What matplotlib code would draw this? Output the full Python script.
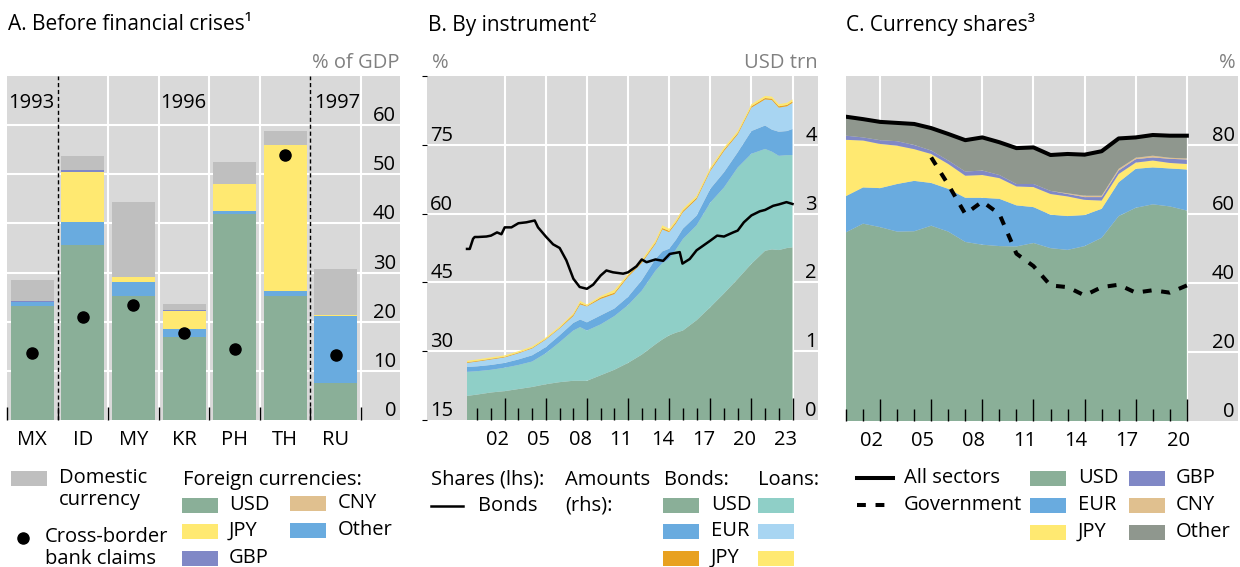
import matplotlib
matplotlib.use("Agg")
import matplotlib.pyplot as plt
import matplotlib.transforms as mtransforms
from matplotlib.patches import Rectangle
from matplotlib.lines import Line2D
import numpy as np

plt.rcParams['font.family'] = ['Open Sans', 'DejaVu Sans']
FS = 14.5
plt.rcParams['font.size'] = FS

# colours
BG = '#d9d9d9'
GRID = 'white'
C_USD = '#8aaf98'
C_USD_LOAN = '#8fcfc7'
C_EUR = '#69abdf'
C_EUR_LOAN = '#a8d5f2'
C_JPY = '#ffe971'
C_JPY_BOND = '#e8a120'
C_GBP = '#8088c6'
C_CNY = '#e0c08f'
C_OTHER = '#8f978e'
C_DOM = '#bfbfbf'
C_UNIT = '#808080'

# ---- panel A: % of GDP ----
countries = ['MX', 'ID', 'MY', 'KR', 'PH', 'TH', 'RU']
a_usd = [23.2, 35.7, 25.3, 16.8, 42.0, 25.2, 7.5]
a_other = [0.8, 4.6, 2.7, 1.7, 0.6, 1.0, 13.6]
a_jpy = [0.0, 10.2, 1.0, 3.6, 5.4, 29.7, 0.2]
a_gbp = [0.3, 0.4, 0.0, 0.3, 0.0, 0.0, 0.0]
a_cny = [0.0, 0.0, 0.0, 0.0, 0.0, 0.0, 0.0]
a_domestic = [4.1, 2.8, 15.4, 1.3, 4.5, 2.9, 9.5]
a_bank_claims = [13.7, 20.9, 23.4, 17.7, 14.5, 54.0, 13.3]
a_years = ['1993', '1996', '1997']

# ---- panel B: USD trn (rhs), % (lhs) ----
b_dates = [2000.25, 2001, 2002, 2003, 2004, 2005, 2006, 2007, 2008, 2008.5,
           2009, 2010, 2011, 2012, 2013, 2014, 2014.5, 2015, 2015.5, 2016,
           2017, 2018, 2019, 2020, 2021, 2022, 2022.5, 2023, 2023.6, 2024]
b_bonds_usd = [0.35, 0.37, 0.40, 0.42, 0.45, 0.48, 0.52, 0.55, 0.57, 0.57,
               0.57, 0.65, 0.73, 0.83, 0.95, 1.10, 1.17, 1.23, 1.27, 1.30,
               1.45, 1.64, 1.84, 2.05, 2.27, 2.46, 2.48, 2.47, 2.50, 2.51]
b_loans_usd = [0.35, 0.34, 0.33, 0.34, 0.35, 0.37, 0.45, 0.58, 0.73, 0.78,
               0.73, 0.74, 0.78, 0.84, 0.93, 1.07, 1.11, 1.11, 1.21, 1.33,
               1.38, 1.52, 1.54, 1.62, 1.60, 1.48, 1.42, 1.37, 1.35, 1.34]
b_bonds_eur = [0.07, 0.07, 0.07, 0.07, 0.08, 0.09, 0.09, 0.10, 0.11, 0.11,
               0.12, 0.13, 0.11, 0.12, 0.15, 0.17, 0.17, 0.15, 0.14, 0.15,
               0.14, 0.20, 0.22, 0.22, 0.33, 0.34, 0.32, 0.35, 0.35, 0.38]
b_loans_eur = [0.06, 0.07, 0.08, 0.08, 0.09, 0.10, 0.11, 0.10, 0.10, 0.22,
               0.23, 0.24, 0.21, 0.29, 0.25, 0.22, 0.32, 0.24, 0.24, 0.24,
               0.24, 0.26, 0.31, 0.26, 0.34, 0.38, 0.43, 0.35, 0.36, 0.38]
b_bonds_jpy = [0.01, 0.01, 0.01, 0.01, 0.01, 0.01, 0.01, 0.01, 0.02, 0.02,
               0.01, 0.02, 0.02, 0.02, 0.02, 0.02, 0.02, 0.02, 0.02, 0.02,
               0.02, 0.02, 0.02, 0.02, 0.02, 0.02, 0.02, 0.02, 0.02, 0.02]
b_loans_jpy = [0.02, 0.02, 0.02, 0.02, 0.02, 0.02, 0.02, 0.02, 0.02, 0.03,
               0.02, 0.02, 0.04, 0.02, 0.03, 0.03, 0.04, 0.03, 0.03, 0.03,
               0.03, 0.03, 0.03, 0.03, 0.03, 0.03, 0.03, 0.03, 0.03, 0.03]

share_dates = [2000.25, 2000.45, 2000.69, 2000.81, 2001.05, 2001.66, 2002.0,
               2002.44, 2002.76, 2003.0, 2003.49, 2004.0, 2004.58, 2005.19,
               2005.43, 2006.0, 2006.53, 2007.01, 2007.5, 2008.01, 2008.47,
               2009.0, 2009.45, 2010.0, 2010.42, 2010.9, 2011.64, 2012.0,
               2012.61, 2013.0, 2013.35, 2014.0, 2014.56, 2015.04, 2015.77,
               2015.97, 2016.5, 2017.0, 2018.0, 2018.5, 2019.0, 2019.67,
               2020.0, 2020.45, 2021.0, 2021.61, 2022.0, 2022.59, 2023.0,
               2023.56, 2024.0]
share_bonds = [52.3, 52.3, 54.5, 54.9, 54.9, 55.0, 55.2,
               55.9, 55.5, 57.0, 57.0, 57.9, 58.1, 58.5,
               57.0, 55.0, 53.3, 52.5, 49.8, 45.8, 44.0,
               43.6, 44.5, 46.5, 47.6, 47.2, 46.9, 47.2,
               48.5, 50.0, 49.4, 50.0, 49.7, 51.2, 51.6,
               49.1, 50.1, 52.0, 54.1, 55.2, 55.0, 55.9,
               56.3, 58.1, 59.6, 60.5, 60.8, 61.7, 62.0,
               62.5, 62.1]

# ---- panel C: % (annual, year-end) ----
c_years = list(range(2000, 2021))
c_usd = [54.7, 57.2, 56.2, 54.9, 55.0, 56.6, 54.9, 51.9, 51.1, 50.7, 50.6,
         51.6, 50.1, 49.6, 50.7, 53.1, 59.4, 61.8, 62.8, 62.2, 61.0]
c_eur = [10.5, 10.5, 11.3, 13.8, 14.6, 12.4, 12.4, 12.8, 13.6, 13.7, 11.9,
         10.4, 9.7, 9.8, 9.0, 8.4, 9.8, 11.3, 10.7, 11.0, 11.9]
c_jpy = [16.3, 13.6, 12.8, 11.1, 9.2, 8.4, 7.2, 6.4, 6.6, 6.0, 5.5,
         5.8, 6.0, 5.7, 4.4, 2.4, 2.4, 1.8, 2.0, 1.6, 1.6]
c_gbp = [1.2, 0.9, 1.1, 1.3, 1.2, 1.0, 1.0, 1.2, 1.3, 0.9, 0.7,
         0.9, 0.9, 0.7, 0.8, 1.0, 1.0, 1.0, 0.9, 1.2, 1.3]
c_cny = [0.0, 0.0, 0.0, 0.0, 0.0, 0.0, 0.0, 0.0, 0.0, 0.0, 0.0,
         0.0, 0.0, 0.2, 0.4, 0.4, 0.5, 0.4, 0.5, 0.3, 0.3]
c_other = [5.5, 5.3, 5.3, 5.3, 6.1, 6.5, 7.7, 9.1, 9.6, 9.5, 10.4,
           10.6, 10.4, 11.4, 11.9, 12.9, 8.8, 5.9, 6.0, 6.4, 6.6]
c_all_sectors = [88.2, 87.5, 86.7, 86.4, 86.1, 84.9, 83.2, 81.4, 82.2, 80.8,
                 79.1, 79.3, 77.1, 77.4, 77.2, 78.2, 81.9, 82.2, 82.9, 82.7,
                 82.7]
c_gov_years = list(range(2005, 2021))
c_government = [76.4, 68.5, 60.0, 63.6, 60.0, 48.5, 44.9, 39.3, 38.8, 36.4,
                38.8, 39.5, 37.2, 37.9, 37.2, 39.3]

W, H = 1240, 567
fig = plt.figure(figsize=(W / 100, H / 100), dpi=100)


def px_axes(x0, y0, x1, y1):
    return fig.add_axes([x0 / W, 1 - y1 / H, (x1 - x0) / W, (y1 - y0) / H])


def base_style(ax):
    ax.set_facecolor(BG)
    for s in ax.spines.values():
        s.set_visible(False)
    ax.set_axisbelow(False)
    ax.tick_params(axis='y', left=False, right=False,
                   labelleft=False, labelright=False)


def ylabels(ax, values, xfrac, ha):
    tr = mtransforms.blended_transform_factory(ax.transAxes, ax.transData)
    tr = mtransforms.offset_copy(tr, fig=fig, y=4, units='dots')
    for v in values:
        ax.text(xfrac, v, str(v), transform=tr, ha=ha, va='baseline',
                fontsize=FS, zorder=5)


def xlabels(ax, positions, labels):
    tr = mtransforms.blended_transform_factory(ax.transData, ax.transAxes)
    for p, l in zip(positions, labels):
        ax.text(p, -0.058, l, transform=tr, ha='center', va='center',
                fontsize=FS)


def year_ticks(ax, first, last):
    ax.set_xticks(range(first, last + 1, 3))
    ax.set_xticks([y for y in range(first - 2, last + 1)
                   if (y - first) % 3], minor=True)
    ax.tick_params(axis='x', which='major', direction='in', length=15.6,
                   width=1, color='black', labelbottom=False)
    ax.tick_params(axis='x', which='minor', direction='in', length=8.4,
                   width=1, color='black', labelbottom=False)


# ---------------- Panel A ----------------
ax = px_axes(7, 76, 400, 420)
base_style(ax)
ax.set_xlim(-0.5, 7.27)
ax.set_ylim(0, 70)
for v in range(10, 70, 10):
    ax.axhline(v, color=GRID, lw=1.5, zorder=0.5)
for b in [1.5, 2.5, 3.5, 4.5, 6.5]:
    ax.axvline(b, color=GRID, lw=1.5, zorder=0.5)
for b in [0.5, 5.5]:
    ax.axvline(b, color='black', lw=1, ls=(0, (3, 2)), zorder=3)

xa = np.arange(len(countries))
bottom = np.zeros(len(countries))
for vals, col in [(a_usd, C_USD), (a_other, C_EUR), (a_jpy, C_JPY),
                  (a_gbp, C_GBP), (a_cny, C_CNY), (a_domestic, C_DOM)]:
    ax.bar(xa, vals, width=0.85, bottom=bottom, color=col, zorder=1)
    bottom += np.array(vals)
ax.plot(xa, a_bank_claims, 'o', color='black', ms=8, zorder=4)

ax.set_xticks(np.arange(-0.5, 7, 1.0))
ax.tick_params(axis='x', direction='in', length=9.4, width=1,
               color='black', labelbottom=False)
xlabels(ax, xa, countries)
ylabels(ax, list(range(0, 70, 10)), 0.99, 'right')
for xp, txt in zip([-0.47, 2.53, 5.57], a_years):
    ax.text(xp, 64.5, txt, ha='left', va='center', fontsize=FS)

fig.text(8 / W, 1 - 25 / H, 'A. Before financial crises¹', fontsize=15,
         ha='left', va='center')
fig.text(400 / W, 1 - 63 / H, '% of GDP', fontsize=FS, color=C_UNIT,
         ha='right', va='center')

# ---------------- Panel B ----------------
ax = px_axes(427, 76, 818, 420)
base_style(ax)
ax.set_xlim(1997.33, 2025.86)
ax.set_ylim(0, 5)
for v in range(1, 5):
    ax.axhline(v, color=GRID, lw=1.5, zorder=0.5)
for y in range(2003, 2025, 3):
    ax.axvline(y, color=GRID, lw=1.5, zorder=0.5)
ax.stackplot(b_dates, b_bonds_usd, b_loans_usd, b_bonds_eur, b_loans_eur,
             b_bonds_jpy, b_loans_jpy,
             colors=[C_USD, C_USD_LOAN, C_EUR, C_EUR_LOAN, C_JPY_BOND, C_JPY],
             lw=0, zorder=1)
year_ticks(ax, 2003, 2024)
xlabels(ax, [y + 0.5 for y in range(2002, 2024, 3)],
        ['02', '05', '08', '11', '14', '17', '20', '23'])
ylabels(ax, [0, 1, 2, 3, 4], 0.997, 'right')

axl = ax.twinx()
for s in axl.spines.values():
    s.set_visible(False)
axl.set_ylim(15, 90)
axl.tick_params(axis='y', left=False, right=False,
                labelleft=False, labelright=False)
axl.plot(share_dates, share_bonds, color='black', lw=1.8, zorder=3)
ylabels(axl, [15, 30, 45, 60, 75], 0.008, 'left')

fig.text(428 / W, 1 - 25 / H, 'B. By instrument²', fontsize=15,
         ha='left', va='center')
fig.text(432 / W, 1 - 63 / H, '%', fontsize=FS, color=C_UNIT,
         ha='left', va='center')
fig.text(818 / W, 1 - 63 / H, 'USD trn', fontsize=FS, color=C_UNIT,
         ha='right', va='center')

# ---------------- Panel C ----------------
ax = px_axes(846, 76, 1238, 421)
base_style(ax)
ax.set_xlim(2001, 2024)
ax.set_ylim(0, 100)
for v in range(20, 100, 20):
    ax.axhline(v, color=GRID, lw=1.5, zorder=0.5)
for y in range(2003, 2022, 3):
    ax.axvline(y, color=GRID, lw=1.5, zorder=0.5)
x_c = np.array(c_years) + 1.0   # annual data plotted at year-end
ax.stackplot(x_c, c_usd, c_eur, c_jpy, c_gbp, c_cny, c_other,
             colors=[C_USD, C_EUR, C_JPY, C_GBP, C_CNY, C_OTHER],
             lw=0, zorder=1)
ax.plot(x_c, c_all_sectors, color='black', lw=2.9, zorder=3)
ax.plot(np.array(c_gov_years) + 1.0, c_government, color='black', lw=2.9,
        dashes=(2.2, 2.4), zorder=3)
year_ticks(ax, 2003, 2021)
xlabels(ax, [y + 0.5 for y in range(2002, 2021, 3)],
        ['02', '05', '08', '11', '14', '17', '20'])
ylabels(ax, [0, 20, 40, 60, 80], 0.992, 'right')

fig.text(846 / W, 1 - 25 / H, 'C. Currency shares³', fontsize=15,
         ha='left', va='center')
fig.text(1236 / W, 1 - 63 / H, '%', fontsize=FS, color=C_UNIT,
         ha='right', va='center')

# ---------------- legends ----------------


def patch(x0, yc, color, w=36, h=15):
    fig.add_artist(Rectangle((x0 / W, 1 - (yc + h / 2) / H), w / W, h / H,
                             transform=fig.transFigure, color=color, lw=0))


def label(x, yc, txt):
    fig.text(x / W, 1 - yc / H, txt, fontsize=FS, ha='left', va='center')


def hline(x0, x1, yc, **kw):
    fig.add_artist(Line2D([x0 / W, x1 / W], [1 - yc / H, 1 - yc / H],
                          transform=fig.transFigure, color='black', **kw))


# A
patch(11, 478, C_DOM)
label(59, 478, 'Domestic')
label(59, 500, 'currency')
fig.add_artist(Line2D([23 / W], [1 - 538 / H], marker='o', ms=8,
                      color='black', transform=fig.transFigure))
label(45, 537, 'Cross-border')
label(45, 559, 'bank claims')
label(183, 480, 'Foreign currencies:')
for yc, col, txt in [(505, C_USD, 'USD'), (531, C_JPY, 'JPY'),
                     (558, C_GBP, 'GBP')]:
    patch(182, yc, col)
    label(229, yc, txt)
for yc, col, txt in [(503, C_CNY, 'CNY'), (530, C_EUR, 'Other')]:
    patch(290, yc, col)
    label(338, yc, txt)

# B
label(431, 480, 'Shares (lhs):')
hline(431, 463, 506, lw=1.8)
label(478, 506, 'Bonds')
label(565, 480, 'Amounts')
label(565, 505, '(rhs):')
label(664, 480, 'Bonds:')
label(758, 480, 'Loans:')
for yc, cb, cl, txt in [(505, C_USD, C_USD_LOAN, 'USD'),
                        (531, C_EUR, C_EUR_LOAN, 'EUR'),
                        (558, C_JPY_BOND, C_JPY, 'JPY')]:
    patch(663, yc, cb)
    label(711, yc, txt)
    patch(758, yc, cl)

# C
hline(857, 893, 478, lw=2.9)
label(904, 478, 'All sectors')
hline(857, 893, 505, lw=2.9, dashes=(2.2, 2.4))
label(904, 505, 'Government')
for yc, col, txt in [(478, C_USD, 'USD'), (505, C_EUR, 'EUR'),
                     (532, C_JPY, 'JPY')]:
    patch(1030, yc, col)
    label(1078, yc, txt)
for yc, col, txt in [(478, C_GBP, 'GBP'), (505, C_CNY, 'CNY'),
                     (532, C_OTHER, 'Other')]:
    patch(1129, yc, col)
    label(1176, yc, txt)

fig.savefig('out.png', dpi=100)
